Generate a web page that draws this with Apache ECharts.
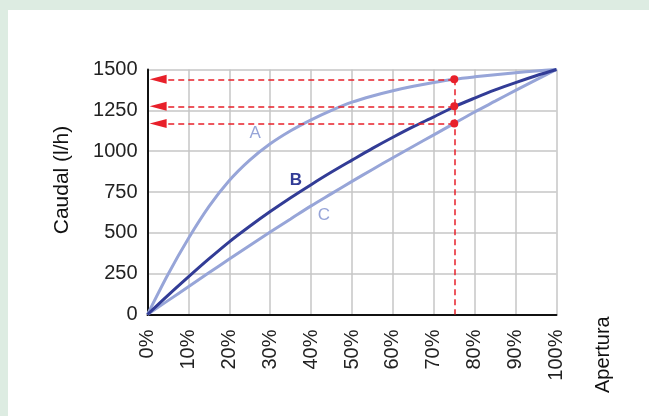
<!DOCTYPE html>
<html>
<head>
<meta charset="utf-8">
<script src="https://cdn.jsdelivr.net/npm/echarts@6/dist/echarts.min.js"></script>
<style>
html,body{margin:0;padding:0;background:#fff;}
#chart{width:649px;height:416px;}
</style>
</head>
<body>
<div id="chart"></div>
<script>
const openings = [0, 5, 10, 15, 20, 25, 30, 35, 40, 45, 50, 55, 60, 65, 70, 75, 80, 85, 90, 95, 100];
const curveA = [0, 245, 465, 660, 820, 945, 1045, 1125, 1192, 1250, 1300, 1338, 1370, 1397, 1420, 1440, 1455, 1468, 1480, 1491, 1500];
const curveB = [0, 117, 230, 340, 445, 540, 630, 715, 795, 872, 945, 1017, 1085, 1150, 1210, 1272, 1325, 1375, 1420, 1462, 1500];
const curveC = [0, 85, 170, 255, 340, 423, 505, 585, 665, 740, 815, 888, 960, 1030, 1100, 1170, 1240, 1306, 1372, 1436, 1500];
const readOpening = 75;
const readValues = [1440, 1275, 1170];
const arrowTipOpening = 2.6;
const curveNames = ['A', 'B', 'C'];
const labelPos = [[26.3, 1111], [36.3, 823], [43.1, 609]];
const xTicks = [0, 10, 20, 30, 40, 50, 60, 70, 80, 90, 100];
const yTicks = [0, 250, 500, 750, 1000, 1250, 1500];

const light = '#97a5d8';
const dark = '#323c96';
const red = '#e8202a';
const font = 'Liberation Sans, Arial, Helvetica, sans-serif';

const pair = arr => openings.map((x, i) => [x, arr[i]]);

const chart = echarts.init(document.getElementById('chart'), null, {renderer: 'canvas'});

const arrowSeries = readValues.map(v => ({
  type: 'line',
  data: [],
  silent: true,
  z: 4,
  markLine: {
    silent: true,
    animation: false,
    symbol: ['none', 'triangle'],
    symbolSize: [9, 17],
    label: {show: false},
    lineStyle: {color: red, type: [6, 4], width: 1.5, opacity: 1},
    itemStyle: {color: red},
    data: [[{coord: [readOpening, v]}, {coord: [arrowTipOpening, v]}]]
  }
}));

chart.setOption({
  animation: false,
  graphic: [
    {type: 'rect', shape: {x: 0, y: 0, width: 649, height: 10}, style: {fill: '#ddece2'}, z: 100},
    {type: 'rect', shape: {x: 0, y: 0, width: 8, height: 416}, style: {fill: '#ddece2'}, z: 100},
    {type: 'text', x: 603, y: 393, rotation: Math.PI / 2,
      style: {text: 'Apertura', font: '20px ' + font, fill: '#111', align: 'left', verticalAlign: 'middle'}},
    {type: 'text', x: 62, y: 180, rotation: Math.PI / 2,
      style: {text: 'Caudal (l/h)', font: '21px ' + font, fill: '#111', align: 'center', verticalAlign: 'middle'}}
  ],
  grid: {left: 147.5, right: 92.5, top: 69.5, bottom: 101.5},
  xAxis: {
    type: 'value', min: 0, max: 100, interval: 10,
    axisLine: {show: true, onZero: false, lineStyle: {color: '#111', width: 2}},
    axisTick: {show: false},
    splitLine: {show: true, lineStyle: {color: '#c6c6c6', width: 1.5}},
    axisLabel: {
      rotate: 90, margin: 15, color: '#222', fontSize: 20, fontFamily: font,
      customValues: xTicks,
      formatter: v => v + '%'
    }
  },
  yAxis: {
    type: 'value', min: 0, max: 1500, interval: 250,
    axisLine: {show: true, lineStyle: {color: '#111', width: 2}},
    axisTick: {show: false},
    splitLine: {show: true, lineStyle: {color: '#c6c6c6', width: 1.5}},
    axisLabel: {margin: 10, color: '#222', fontSize: 20, fontFamily: font,
      customValues: yTicks, formatter: v => String(v)}
  },
  series: [
    {type: 'line', name: 'A', data: pair(curveA), smooth: 0.3, showSymbol: false, z: 3,
      lineStyle: {color: light, width: 3}},
    {type: 'line', name: 'C', data: pair(curveC), smooth: 0.3, showSymbol: false, z: 3,
      lineStyle: {color: light, width: 3}},
    {type: 'line', name: 'B', data: pair(curveB), smooth: 0.3, showSymbol: false, z: 3,
      lineStyle: {color: dark, width: 3}},
    {type: 'line', data: [], z: 4,
      markLine: {
        silent: true, animation: false, symbol: ['none', 'none'],
        label: {show: false},
        lineStyle: {color: red, type: [6, 4], width: 1.5},
        data: [[{coord: [readOpening, readValues[0]]}, {coord: [readOpening, 0]}]]
      }},
    ...arrowSeries,
    {type: 'scatter', z: 6, symbol: 'circle', symbolSize: 8,
      itemStyle: {color: red, opacity: 1},
      data: readValues.map(v => [readOpening, v])},
    {type: 'scatter', z: 6, symbolSize: 0, itemStyle: {opacity: 1},
      data: curveNames.map((n, i) => ({
        value: labelPos[i],
        label: {show: true, position: 'inside', formatter: n, fontSize: 17, fontFamily: font,
          color: i === 1 ? dark : light, fontWeight: i === 1 ? 'bold' : 'normal', opacity: 1}
      }))}
  ]
});
</script>
</body>
</html>
